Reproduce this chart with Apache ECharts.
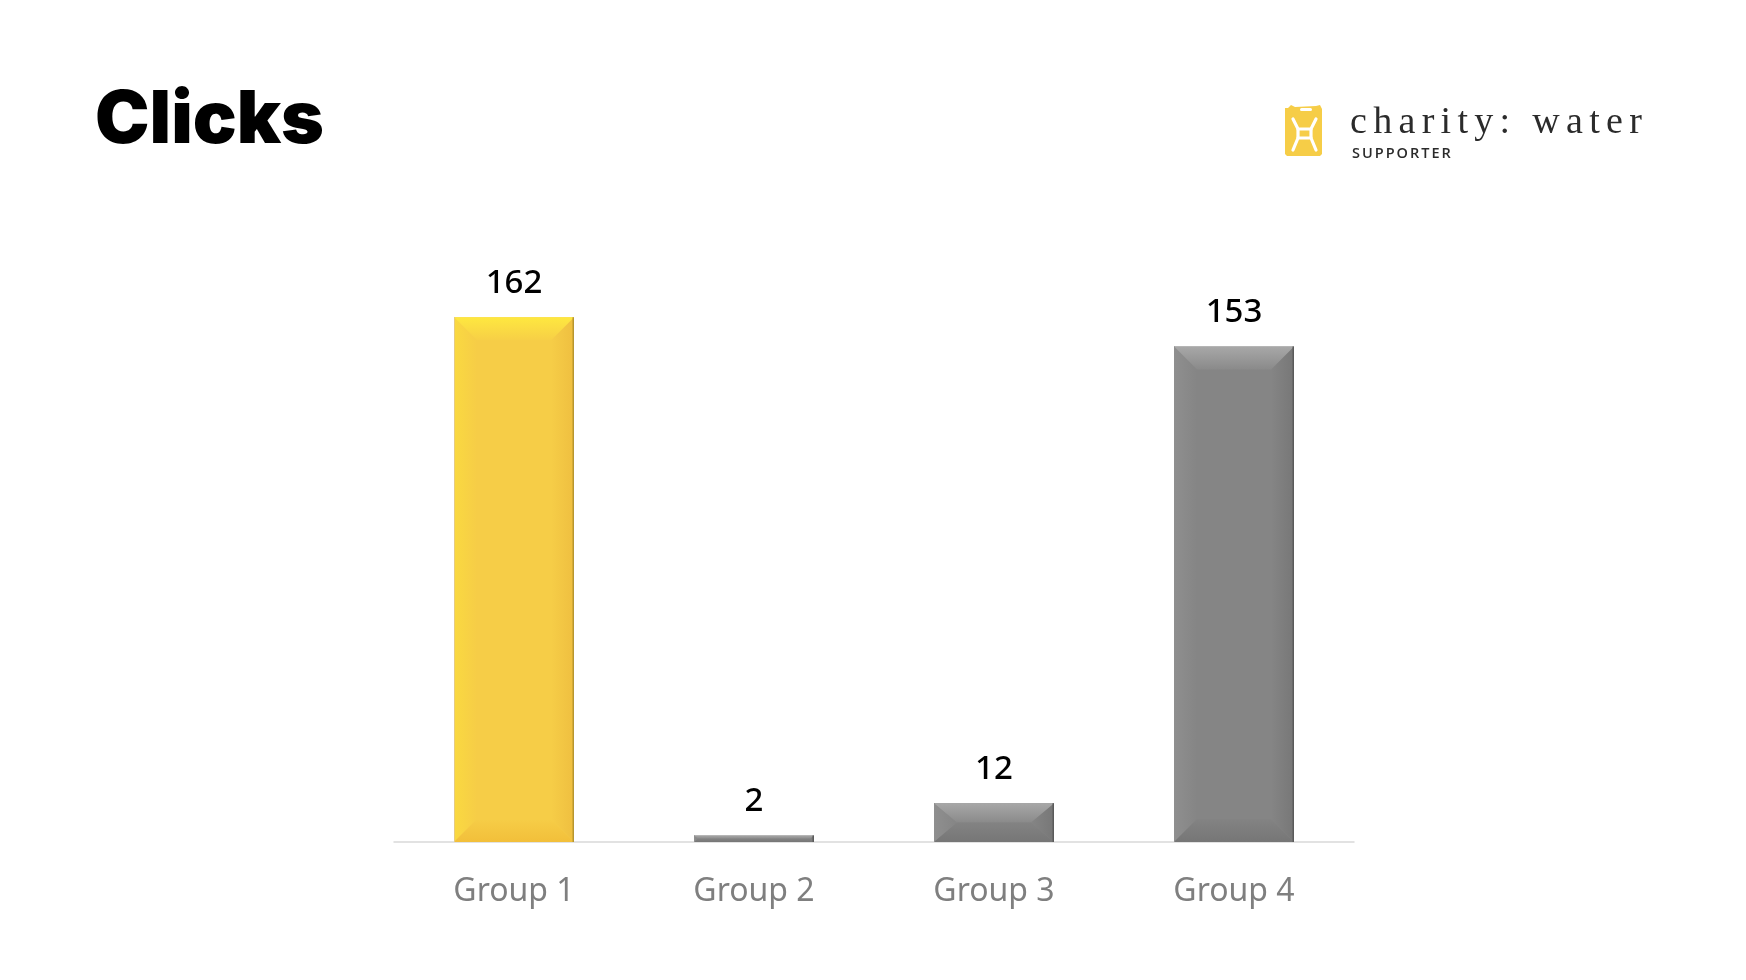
<!DOCTYPE html>
<html>
<head>
<meta charset="utf-8">
<style>html,body{margin:0;padding:0;background:#fff}#c{width:1746px;height:980px}</style>
<script src="https://cdn.jsdelivr.net/npm/echarts@6/dist/echarts.min.js"></script>
</head>
<body>
<div id="c"></div>
<script>
const titleText = 'Clicks';
const categories = ['Group 1', 'Group 2', 'Group 3', 'Group 4'];
const clicks = [162, 2, 12, 153];
const logoName = 'charity: water';
const logoSub = 'SUPPORTER';
const yMax = 180;

const faces = {
  yellow: {body: '#F6CD47', top: ['#FEE840', '#F7CF46'], left: ['#FAD940', '#F6CD47'], right: ['#F6CD47', '#EFBF40'], bottom: ['#F6CD47', '#F2BF3A'], edge: '#B8962E', ledge: '#E6CB80'},
  gray: {body: '#858585', top: ['#A8A8A8', '#8A8A8A'], left: ['#8F8F8F', '#858585'], right: ['#858585', '#777777'], bottom: ['#838383', '#767676'], edge: '#5A5A5A', ledge: '#8F8F8F'}
};

const tracking = {[logoName]: '6.3px', [logoSub]: '2px'};
const nativeFillText = CanvasRenderingContext2D.prototype.fillText;
CanvasRenderingContext2D.prototype.fillText = function (t, x, y, m) {
  if (tracking[t]) {
    this.letterSpacing = tracking[t];
    nativeFillText.call(this, t, x, y);
    this.letterSpacing = '0px';
  } else if (m === undefined) {
    nativeFillText.call(this, t, x, y);
  } else {
    nativeFillText.call(this, t, x, y, m);
  }
};

function grad(x0, y0, x1, y1, c) {
  return new echarts.graphic.LinearGradient(x0, y0, x1, y1, [{offset: 0, color: c[0]}, {offset: 1, color: c[1]}]);
}
function poly(points, fill) {
  return {type: 'polygon', shape: {points: points}, style: {fill: fill}, silent: true};
}
function renderBevel(params, api) {
  const i = api.value(0);
  const top = api.coord([i, api.value(1)]);
  const base = api.coord([i, 0]);
  const size = api.size([1, 0])[0];
  const w = size * 0.5, x0 = top[0] - w / 2, x1 = x0 + w, y0 = top[1], y1 = base[1];
  const b = Math.min(23, (y1 - y0) / 2);
  const bx = Math.min(23, (y1 - y0) * 0.6);
  const f = i === 0 ? faces.yellow : faces.gray;
  return {type: 'group', children: [
    poly([[x0, y0], [x0 + bx, y0 + b], [x0 + bx, y1 - b], [x0, y1]], grad(0, 0, 1, 0, f.left)),
    poly([[x1, y0], [x1 - bx, y0 + b], [x1 - bx, y1 - b], [x1, y1]], grad(0, 0, 1, 0, f.right)),
    poly([[x0, y0], [x1, y0], [x1 - bx, y0 + b], [x0 + bx, y0 + b]], grad(0, 0, 0, 1, f.top)),
    poly([[x0, y1], [x0 + bx, y1 - b], [x1 - bx, y1 - b], [x1, y1]], grad(0, 0, 0, 1, f.bottom)),
    {type: 'rect', shape: {x: x1 - 1.5, y: y0, width: 1.5, height: y1 - y0}, style: {fill: f.edge}, silent: true},
    {type: 'rect', shape: {x: x0, y: y0, width: 1, height: y1 - y0}, style: {fill: f.ledge}, silent: true}
  ]};
}

const chart = echarts.init(document.getElementById('c'), null, {renderer: 'canvas'});
chart.setOption({
  animation: false,
  backgroundColor: '#ffffff',
  title: {
    text: titleText, left: 90, top: 80,
    textStyle: {fontFamily: 'Inter', fontWeight: 900, fontSize: 73, color: '#000000'}
  },
  grid: {left: 394, right: 392, top: 259, bottom: 138, containLabel: false},
  xAxis: {
    type: 'category', data: categories,
    axisLine: {lineStyle: {color: '#D9D9D9', width: 1.5}},
    axisTick: {show: false},
    axisLabel: {fontFamily: 'Noto Sans', fontSize: 32, color: '#7F7F7F', margin: 34}
  },
  yAxis: {type: 'value', min: 0, max: yMax, interval: 30, show: false, splitLine: {show: false}},
  series: [
    {
      type: 'bar', data: clicks.map((v, i) => ({value: v, itemStyle: {color: i === 0 ? faces.yellow.body : faces.gray.body}})),
      barWidth: '50%',
      label: {show: true, position: 'top', distance: 17, fontFamily: 'Noto Sans', fontWeight: 500, fontSize: 33, color: '#000000'}
    },
    {
      type: 'custom', data: clicks.map((v, i) => [i, v]), renderItem: renderBevel,
      encode: {x: 0, y: 1}, silent: true, z: 3
    }
  ],
  graphic: [
    {
      type: 'group', left: 1285, top: 105, children: [
        {type: 'polygon', shape: {points: [[0,4],[3,4],[6,1],[10,3],[31,2],[35,1],[37,5],[37,50],[35,52],[2,52],[0,50]]}, style: {fill: '#F6CD47'}},
        {type: 'rect', shape: {x: 15, y: 4, width: 12, height: 3, r: 1.5}, style: {fill: '#ffffff'}},
        {type: 'polyline', shape: {points: [[8,15],[13,25],[26,25],[31,15]]}, style: {stroke: '#fff', lineWidth: 3.2, lineCap: 'round'}},
        {type: 'polyline', shape: {points: [[8,46],[13,34],[26,34],[31,46]]}, style: {stroke: '#fff', lineWidth: 3.2, lineCap: 'round'}},
        {type: 'polyline', shape: {points: [[13,25],[13,34]]}, style: {stroke: '#fff', lineWidth: 3.2}},
        {type: 'polyline', shape: {points: [[26,25],[26,34]]}, style: {stroke: '#fff', lineWidth: 3.2}}
      ]
    },
    {type: 'text', left: 1350, top: 104, style: {text: logoName, font: '38px "Liberation Serif"', fill: '#2B2B2B'}},
    {type: 'text', left: 1352, top: 146, style: {text: logoSub, font: '600 14.5px "Open Sans"', fill: '#2B2B2B'}}
  ]
});
</script>
</body>
</html>
